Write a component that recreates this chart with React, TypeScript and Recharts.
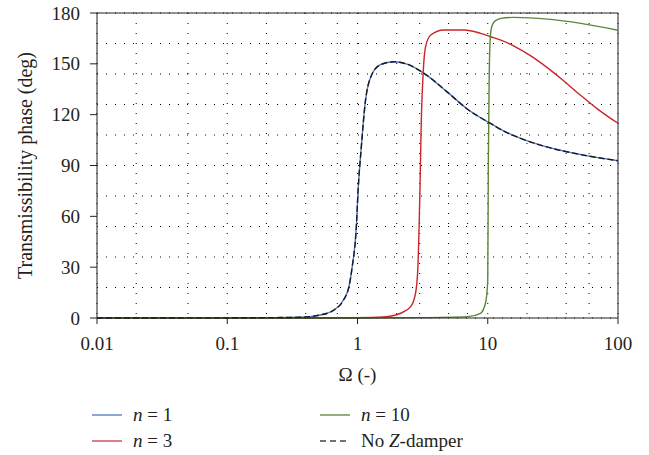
import { CartesianGrid, Line, LineChart, ReferenceLine, XAxis, YAxis } from "recharts";

const W = 649;
const H = 455;
const FONT = '"Liberation Serif", "DejaVu Serif", "Times New Roman", serif';
const INK = "#231f20";

// Ω values and phase (deg)
const omegaN1 = [0.01, 0.1, 0.2, 0.36, 0.52, 0.66, 0.78, 0.86, 0.91, 0.98, 1.01, 1.07, 1.15, 1.26, 1.5, 1.9, 2.4, 3.24, 4.9, 7, 10.5, 13.3, 17.9, 28.8, 51.9, 100];
const phaseN1 = [0, 0.1, 0.2, 0.4, 1.8, 4.7, 10.6, 18.5, 30, 54, 75, 101, 128, 142, 149.5, 151.2, 149.8, 144.4, 133.3, 123.2, 114.8, 110.3, 106, 100.8, 96.4, 92.8];

const omegaN3 = [0.01, 0.3, 1, 1.59, 2.14, 2.56, 2.79, 2.9, 3.02, 3.09, 3.2, 3.33, 3.65, 4.6, 6.6, 8.8, 10.5, 12.6, 15.9, 21.4, 28.8, 38.6, 51.9, 69.8, 100];
const phaseN3 = [0, 0, 0.2, 0.6, 2.8, 6.7, 14.6, 28, 77.5, 117, 146, 160, 167, 170, 170, 168, 166, 164, 160.5, 154.7, 147.6, 139.7, 131.3, 123.3, 114.9];

const omegaN10 = [0.01, 1, 3, 7, 8.8, 9.6, 10, 10.1, 10.25, 10.4, 10.6, 11, 11.8, 12.6, 15.9, 28.8, 51.9, 100];
const phaseN10 = [0, 0, 0.2, 0.8, 2.8, 8.7, 22, 90, 140, 162, 170, 174, 176, 176.8, 177.4, 176.4, 173.9, 169.8];

// no Z-damper sits on top of n = 1
const omegaNoZ = omegaN1;
const phaseNoZ = [0, 0.1, 0.2, 0.4, 1.8, 4.7, 10.6, 18.5, 30, 54, 75, 101, 128, 142, 149.5, 151.2, 149.8, 144.4, 133.3, 123.2, 114.8, 110.3, 106, 100.8, 96.4, 92.8];

const xTicks = [0.01, 0.1, 1, 10, 100];
const xTickLabels = ["0.01", "0.1", "1", "10", "100"];
const yTicks = [0, 30, 60, 90, 120, 150, 180];

const decades = [0.01, 0.1, 1, 10];
const gridX = [...decades.flatMap((d) => [1, 2, 3, 4, 5, 6, 7, 8, 9].map((k) => +(k * d).toPrecision(3))), 100];
const gridY = Array.from({ length: 31 }, (_, i) => i * 6);

const toPts = (xs: number[], ys: number[]) => xs.map((x, i) => ({ x, y: ys[i] }));

const series = [
  { name: "n1", data: toPts(omegaN1, phaseN1), color: "#4a74c4", dash: undefined },
  { name: "n3", data: toPts(omegaN3, phaseN3), color: "#c8262c", dash: undefined },
  { name: "n10", data: toPts(omegaN10, phaseN10), color: "#5a873a", dash: undefined },
  { name: "noZ", data: toPts(omegaNoZ, phaseNoZ), color: "#1a1a1a", dash: "6 3" },
];

const legendItems = [
  { key: "n1", color: "#5b80c8", dash: undefined, col: 0, row: 0 },
  { key: "n3", color: "#d0484e", dash: undefined, col: 0, row: 1 },
  { key: "n10", color: "#688c4a", dash: undefined, col: 1, row: 0 },
  { key: "noZ", color: "#444", dash: "6 4", col: 1, row: 1 },
];

function legendText(key: string) {
  if (key === "noZ")
    return (
      <>
        No <tspan fontStyle="italic">Z</tspan>-damper
      </>
    );
  const n = key.slice(1);
  return (
    <>
      <tspan fontStyle="italic">n</tspan> = {n}
    </>
  );
}

function XTick({ x, y, payload }: any) {
  const i = xTicks.indexOf(payload.value);
  return (
    <text x={x} y={y + 24} textAnchor="middle" fontSize={19} fontFamily={FONT} fill={INK}>
      {xTickLabels[i] ?? payload.value}
    </text>
  );
}

function YTick({ x, y, payload }: any) {
  return (
    <text x={x} y={y + 6.5} textAnchor="end" fontSize={19} fontFamily={FONT} fill={INK}>
      {payload.value}
    </text>
  );
}

export default function App() {
  const colX = [92, 320];
  const rowY = [20, 46];
  return (
    <div style={{ position: "absolute", left: 0, top: 0, width: W, height: H, background: "#fff", fontFamily: FONT }}>
      <LineChart width={W} height={H} data={series[0].data} margin={{ top: 13, right: 31, left: 0, bottom: 70 }}>
        <CartesianGrid
          horizontal={false}
          verticalValues={gridX}
          stroke="#000"
          strokeWidth={1}
          strokeDasharray="1 9"
        />
        <CartesianGrid
          vertical={false}
          horizontalValues={gridY}
          stroke="#000"
          strokeWidth={1}
          strokeDasharray="1 8"
        />
        <XAxis
          dataKey="x"
          type="number"
          scale="log"
          domain={[0.01, 100]}
          ticks={xTicks}
          allowDataOverflow
          height={67}
          tickSize={6}
          stroke={INK}
          tick={<XTick />}
          label={(p: any) => {
            const vb = p.viewBox;
            return (
              <text x={vb.x + vb.width / 2} y={vb.y + 63} textAnchor="middle" fontSize={19} fontFamily={FONT} fill={INK}>
                Ω (-)
              </text>
            );
          }}
        />
        <YAxis
          type="number"
          domain={[0, 180]}
          ticks={yTicks}
          width={97}
          tickSize={7}
          tickMargin={10}
          stroke={INK}
          tick={<YTick />}
          label={(p: any) => {
            const vb = p.viewBox;
            const cy = vb.y + vb.height / 2;
            return (
              <text
                x={32}
                y={cy}
                transform={`rotate(-90, 32, ${cy})`}
                textAnchor="middle"
                fontSize={20}
                fontFamily={FONT}
                fill={INK}
              >
                Transmissibility phase (deg)
              </text>
            );
          }}
        />
        <ReferenceLine y={180} stroke={INK} strokeWidth={1} />
        <ReferenceLine x={100} stroke={INK} strokeWidth={1} />
        {series.map((s) => (
          <Line
            key={s.name}
            data={s.data}
            dataKey="y"
            type="monotone"
            stroke={s.color}
            strokeWidth={1.4}
            strokeDasharray={s.dash}
            dot={false}
            activeDot={false}
            isAnimationActive={false}
          />
        ))}
      </LineChart>
      <svg width={W} height={60} style={{ position: "absolute", left: 0, top: 395 }}>
        {legendItems.map((it) => {
          const x0 = colX[it.col];
          const y0 = rowY[it.row];
          return (
            <g key={it.key}>
              <line x1={x0} x2={x0 + 30} y1={y0} y2={y0} stroke={it.color} strokeWidth={1.4} strokeDasharray={it.dash} />
              <text x={x0 + 41} y={y0 + 6} fontSize={19} fontFamily={FONT} fill={INK}>
                {legendText(it.key)}
              </text>
            </g>
          );
        })}
      </svg>
    </div>
  );
}
